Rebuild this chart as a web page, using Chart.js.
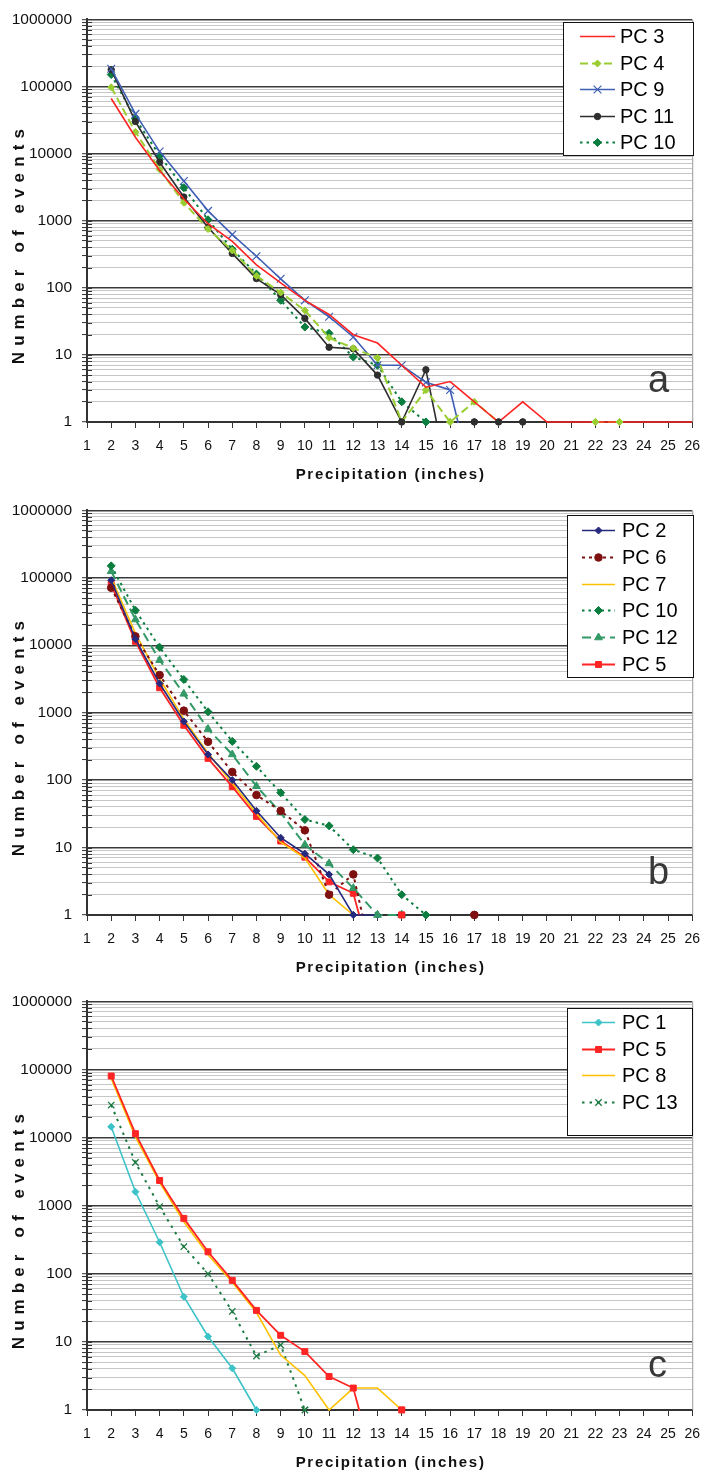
<!DOCTYPE html>
<html>
<head>
<meta charset="utf-8">
<title>Number of events by precipitation amount</title>
<script src="https://cdn.jsdelivr.net/npm/chart.js@4.4.1/dist/chart.umd.min.js"></script>
<style>
  html, body { margin: 0; padding: 0; background: #fff; }
  canvas { display: block; }
</style>
</head>
<body>
<canvas id="chartA" width="710" height="491"></canvas>
<canvas id="chartB" width="710" height="491"></canvas>
<canvas id="chartC" width="710" height="492"></canvas>
<script>
// x categories: precipitation, inches
const precipInches = ['1', '2', '3', '4', '5', '6', '7', '8', '9', '10', '11', '12', '13',
  '14', '15', '16', '17', '18', '19', '20', '21', '22', '23', '24', '25', '26'];
// labelled decades on the log axis
const yDecades = ['1', '10', '100', '1000', '10000', '100000', '1000000'];

// event counts, first value is 2 inches; 0 = no events
const pc1 = [14400, 1600, 290, 46, 12, 4.1, 1];
const pc2 = [92000, 12300, 2700, 740, 240, 100, 35, 14, 8.1, 4, 1, 1];
const pc3 = [66000, 17500, 5600, 2100, 900, 490, 220, 118, 65, 40, 20, 15, 7, 3.3, 4, 2, 1, 2, 1, 1, 1, 1, 1, 1, 1];
const pc4 = [97000, 21000, 5800, 1850, 750, 360, 150, 85, 46, 18, 12.6, 9, 1, 3, 1, 2, 1, 0, 0, 0, 1, 1];
const pc5 = [80000, 11400, 2340, 650, 210, 80, 29, 12.5, 7.2, 3.1, 2.1, 0, 1];
const pc6 = [71000, 13500, 3600, 1070, 370, 132, 60, 35, 18, 2, 4, 0, 0, 0, 0, 1];
const pc7 = [100000, 15000, 3200, 800, 250, 90, 32, 12, 7, 2, 1];
const pc8 = [74000, 10200, 2200, 580, 190, 75, 27, 6.4, 3.2, 1, 2.1, 2.1, 1];
const pc9 = [183000, 39000, 10700, 3900, 1400, 620, 295, 136, 65, 37, 18.5, 7, 7, 3.9, 3, 0];
const pc10 = [150000, 33000, 9300, 3100, 1030, 375, 160, 65, 26, 21, 9.3, 7, 2, 1];
const pc11 = [178000, 30000, 7400, 2250, 790, 325, 137, 79, 35, 13, 12.3, 5, 1, 6, 0, 1, 1, 1];
const pc12 = [125000, 24000, 6000, 1900, 570, 240, 81, 33, 11, 5.8, 2.5, 1, 1];
const pc13 = [30000, 4300, 970, 250, 100, 28, 6.2, 9, 1];

const FONT = '"Liberation Sans", Arial, Helvetica, sans-serif';
const decadeValues = yDecades.map(Number);

// zero counts sit at 0.1 so the line falls off the bottom of the log axis
function series(label, values, style) {
  return Object.assign({
    label,
    data: [null].concat(values.map(v => (v === 0 ? 0.1 : v))),
    fill: false,
    tension: 0,
    borderWidth: 1.6,
    pointRadius: 0,
    pointBorderWidth: 1,
    clip: { left: 8, top: 8, right: 8, bottom: 1 }
  }, style);
}

const sRed = { borderColor: '#ff2424', backgroundColor: '#ff2424' };
const sYellow = { borderColor: '#ffc000', backgroundColor: '#ffc000' };
const sPc10 = { borderColor: '#0b7d3e', backgroundColor: '#0b7d3e', borderWidth: 2, borderDash: [2.5, 4], pointStyle: 'rectRot', pointRadius: 4 };
const sPc5 = Object.assign({ borderWidth: 1.8, pointStyle: 'rect', pointRadius: 4.2 }, sRed);

const panelDecor = {
  id: 'panelDecor',
  afterDatasetsDraw(chart) {
    // markers sitting on the x axis got clipped along with the lines
    const area = chart.chartArea;
    chart.getSortedVisibleDatasetMetas().forEach(meta => {
      meta.data.forEach(pt => {
        if (!pt.skip && Math.abs(pt.y - area.bottom) < 1) pt.draw(chart.ctx, area);
      });
    });
  },
  afterDraw(chart, args, opts) {
    const ctx = chart.ctx;
    const area = chart.chartArea;
    const yScale = chart.scales.y;
    ctx.save();

    // right frame line
    ctx.strokeStyle = '#9a9a9a';
    ctx.lineWidth = 1;
    ctx.beginPath();
    ctx.moveTo(area.right + 0.5, area.top);
    ctx.lineTo(area.right + 0.5, area.bottom);
    ctx.stroke();

    // y tick marks cross the axis
    ctx.strokeStyle = '#333';
    yScale.ticks.forEach(t => {
      const y = Math.round(yScale.getPixelForValue(t.value)) + 0.5;
      ctx.beginPath();
      ctx.moveTo(area.left, y);
      ctx.lineTo(area.left + 5, y);
      ctx.stroke();
    });

    // axis titles
    ctx.fillStyle = '#111';
    ctx.textAlign = 'center';
    ctx.textBaseline = 'middle';
    ctx.font = 'bold 15px ' + FONT;
    ctx.letterSpacing = '1.7px';
    ctx.fillText('Precipitation (inches)', (area.left + area.right) / 2 + 1, area.bottom + 53);
    ctx.save();
    ctx.translate(19.5, (area.top + area.bottom) / 2 + 23);
    ctx.rotate(-Math.PI / 2);
    ctx.font = 'bold 17px ' + FONT;
    ctx.letterSpacing = '6.1px';
    ctx.fillText('Number of events', 0, 0);
    ctx.restore();
    ctx.letterSpacing = '0px';

    // panel letter
    ctx.fillStyle = '#383838';
    ctx.textAlign = 'left';
    ctx.textBaseline = 'alphabetic';
    ctx.font = '38px "Liberation Sans Narrow", ' + FONT;
    ctx.fillText(opts.letter, 648, opts.letterBase);

    // legend box
    const lg = opts.legend;
    ctx.fillStyle = '#fff';
    ctx.fillRect(lg.left, lg.top, lg.width, lg.height);
    ctx.strokeStyle = '#111';
    ctx.lineWidth = 1;
    ctx.strokeRect(lg.left + 0.5, lg.top + 0.5, lg.width, lg.height);
    const drawPoint = Chart.helpers && Chart.helpers.drawPoint;
    chart.data.datasets.forEach((ds, i) => {
      const y = Math.round(lg.top + lg.rowStart + i * lg.rowStep) + 0.5;
      ctx.strokeStyle = ds.borderColor;
      ctx.lineWidth = ds.borderWidth;
      ctx.setLineDash(ds.borderDash || []);
      ctx.beginPath();
      ctx.moveTo(lg.x0, y);
      ctx.lineTo(lg.x1, y);
      ctx.stroke();
      ctx.setLineDash([]);
      if (ds.pointRadius > 0 && drawPoint) {
        ctx.fillStyle = ds.backgroundColor;
        ctx.lineWidth = ds.pointBorderWidth;
        drawPoint(ctx, { pointStyle: ds.pointStyle, radius: ds.pointRadius, borderWidth: ds.pointBorderWidth, rotation: 0 },
          (lg.x0 + lg.x1) / 2, y);
      }
      ctx.fillStyle = '#000';
      ctx.font = '20px ' + FONT;
      ctx.textBaseline = 'middle';
      ctx.fillText(ds.label, lg.textX, y + 1);
    });
    ctx.restore();
  }
};

function makeChart(p) {
  const canvas = document.getElementById(p.id);
  const H = canvas.height;
  return new Chart(canvas, {
    type: 'line',
    data: { labels: precipInches, datasets: p.datasets },
    options: {
      responsive: false,
      animation: false,
      devicePixelRatio: 1,
      events: [],
      layout: { padding: { left: 0, right: 12, top: p.top, bottom: 0 } },
      plugins: {
        legend: { display: false },
        tooltip: { enabled: false },
        panelDecor: { letter: p.letter, letterBase: p.letterBase, legend: p.legend }
      },
      scales: {
        x: {
          type: 'category',
          offset: false,
          afterFit: s => { s.height = H - p.bottom; },
          grid: { drawOnChartArea: false, tickLength: 6, tickColor: '#333', tickWidth: 1 },
          border: { color: '#333', width: 2 },
          ticks: { autoSkip: false, maxRotation: 0, padding: 10, color: '#111', font: { family: FONT, size: 14 } }
        },
        y: {
          type: 'logarithmic',
          min: 1,
          max: 1000000,
          afterFit: s => { s.width = 87; },
          afterBuildTicks: s => {
            const ticks = [];
            decadeValues.forEach((d, i) => {
              ticks.push({ value: d, major: true });
              if (i < decadeValues.length - 1) {
                for (let m = 2; m <= 9; m++) ticks.push({ value: d * m });
              }
            });
            s.ticks = ticks;
          },
          grid: {
            color: c => (decadeValues.includes(c.tick.value) ? '#3a3a3a' : '#c6c6c6'),
            lineWidth: c => (decadeValues.includes(c.tick.value) ? 1.4 : 1.1),
            tickLength: 5,
            tickColor: '#333',
            tickWidth: 1
          },
          border: { color: '#333', width: 2 },
          ticks: {
            autoSkip: false,
            padding: 10,
            color: '#111',
            font: { family: FONT, size: 15.5 },
            callback: v => (decadeValues.includes(v) ? yDecades[decadeValues.indexOf(v)] : '')
          }
        }
      }
    },
    plugins: [panelDecor]
  });
}

makeChart({
  id: 'chartA', top: 13, bottom: 422, letter: 'a', letterBase: 392,
  legend: { left: 563, top: 22, width: 130, height: 133, rowStart: 14, rowStep: 26.5, x0: 580, x1: 615, textX: 620 },
  datasets: [
    series('PC 3', pc3, Object.assign({ borderWidth: 1.6 }, sRed)),
    series('PC 4', pc4, { borderColor: '#9acd32', backgroundColor: '#9acd32', borderWidth: 2, borderDash: [8, 4], pointStyle: 'rectRot', pointRadius: 3.5 }),
    series('PC 9', pc9, { borderColor: '#3f5fb5', backgroundColor: '#3f5fb5', pointStyle: 'crossRot', pointRadius: 5.5, pointBorderWidth: 1.2 }),
    series('PC 11', pc11, { borderColor: '#2e2e2e', backgroundColor: '#2e2e2e', pointStyle: 'circle', pointRadius: 3.2 }),
    series('PC 10', pc10, sPc10)
  ]
});

makeChart({
  id: 'chartB', top: 15, bottom: 424, letter: 'b', letterBase: 393,
  legend: { left: 567, top: 24, width: 126, height: 162, rowStart: 15, rowStep: 26.8, x0: 582, x1: 615, textX: 622 },
  datasets: [
    series('PC 2', pc2, { borderColor: '#262a7e', backgroundColor: '#262a7e', pointStyle: 'rectRot', pointRadius: 3.5 }),
    series('PC 6', pc6, { borderColor: '#7f1010', backgroundColor: '#7f1010', borderWidth: 2, borderDash: [3, 4], pointStyle: 'circle', pointRadius: 3.8 }),
    series('PC 7', pc7, Object.assign({ borderWidth: 1.6 }, sYellow)),
    series('PC 10', pc10, sPc10),
    series('PC 12', pc12, { borderColor: '#339966', backgroundColor: '#339966', borderWidth: 2, borderDash: [9, 5], pointStyle: 'triangle', pointRadius: 4.5 }),
    series('PC 5', pc5, sPc5)
  ]
});

makeChart({
  id: 'chartC', top: 19, bottom: 428, letter: 'c', letterBase: 395,
  legend: { left: 567, top: 26, width: 125, height: 127, rowStart: 14, rowStep: 26.5, x0: 582, x1: 615, textX: 622 },
  datasets: [
    series('PC 1', pc1, { borderColor: '#3cc3c8', backgroundColor: '#3cc3c8', pointStyle: 'rectRot', pointRadius: 3.5 }),
    series('PC 5', pc5, sPc5),
    series('PC 8', pc8, Object.assign({ borderWidth: 1.6 }, sYellow)),
    series('PC 13', pc13, { borderColor: '#1a7a40', backgroundColor: '#1a7a40', borderWidth: 2, borderDash: [2.5, 5], pointStyle: 'crossRot', pointRadius: 4.5, pointBorderWidth: 1.3 })
  ]
});
</script>
</body>
</html>
